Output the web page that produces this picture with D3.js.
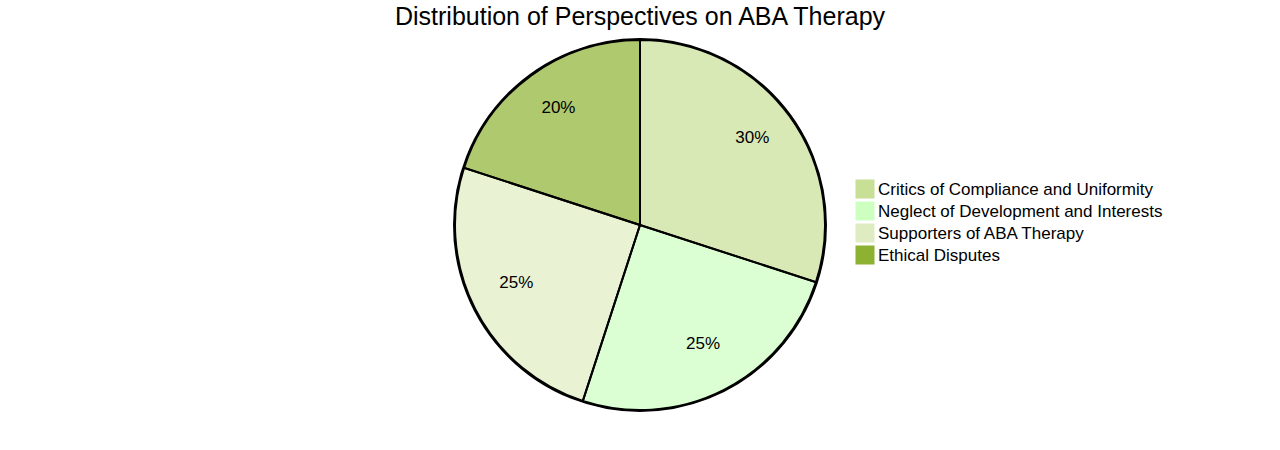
<!DOCTYPE html>
<html>
<head>
<meta charset="utf-8">
<script src="https://cdn.jsdelivr.net/npm/d3@7"></script>
<style>
  body { margin: 0; background: #fff; }
  svg { font-family: "Liberation Sans", Arial, sans-serif; }
</style>
</head>
<body>
<div id="chart"></div>
<script>
const title = "Distribution of Perspectives on ABA Therapy";
const labels = ["Critics of Compliance and Uniformity", "Neglect of Development and Interests", "Supporters of ABA Therapy", "Ethical Disputes"];
const values = [30, 25, 25, 20];
const colors = ["#c8e096", "#ccffc0", "#dfecc1", "#8db232"];

const width = 1280, height = 450;
const cx = 640, cy = 225, radius = 185;

const svg = d3.select("#chart").append("svg")
    .attr("width", width)
    .attr("height", height);

svg.append("text")
    .attr("x", cx)
    .attr("y", 25)
    .attr("text-anchor", "middle")
    .attr("font-size", 25)
    .attr("fill", "#000")
    .text(title);

const color = d3.scaleOrdinal().domain(labels).range(colors);
const total = d3.sum(values);
const data = labels.map((l, i) => ({ label: l, value: values[i] }));

const pie = d3.pie().value(d => d.value).sort(null);
const arc = d3.arc().innerRadius(0).outerRadius(radius);
const labelArc = d3.arc().innerRadius(radius * 0.75).outerRadius(radius * 0.75);

const g = svg.append("g").attr("transform", `translate(${cx},${cy})`);

// outer ring
g.append("circle")
    .attr("r", radius + 1)
    .attr("fill", "none")
    .attr("stroke", "#000")
    .attr("stroke-width", 2);

g.selectAll("path.slice")
    .data(pie(data))
    .join("path")
    .attr("class", "slice")
    .attr("d", arc)
    .attr("fill", d => color(d.data.label))
    .attr("opacity", 0.7);

g.selectAll("path.edge")
    .data(pie(data))
    .join("path")
    .attr("class", "edge")
    .attr("d", arc)
    .attr("fill", "none")
    .attr("stroke", "#000")
    .attr("stroke-width", 2);

g.selectAll("text.pct")
    .data(pie(data))
    .join("text")
    .attr("class", "pct")
    .attr("transform", d => `translate(${labelArc.centroid(d)})`)
    .attr("text-anchor", "middle")
    .attr("font-size", 17)
    .attr("fill", "#000")
    .text(d => Math.round(d.data.value / total * 100) + "%");

// legend
const legend = svg.append("g").attr("transform", "translate(856,180)");
const rows = legend.selectAll("g")
    .data(labels)
    .join("g")
    .attr("transform", (d, i) => `translate(0,${i * 22})`);

rows.append("rect")
    .attr("width", 18)
    .attr("height", 18)
    .attr("fill", d => color(d))
    .attr("stroke", d => color(d));

rows.append("text")
    .attr("x", 22)
    .attr("y", 15)
    .attr("font-size", 17)
    .attr("fill", "#000")
    .text(d => d);
</script>
</body>
</html>
